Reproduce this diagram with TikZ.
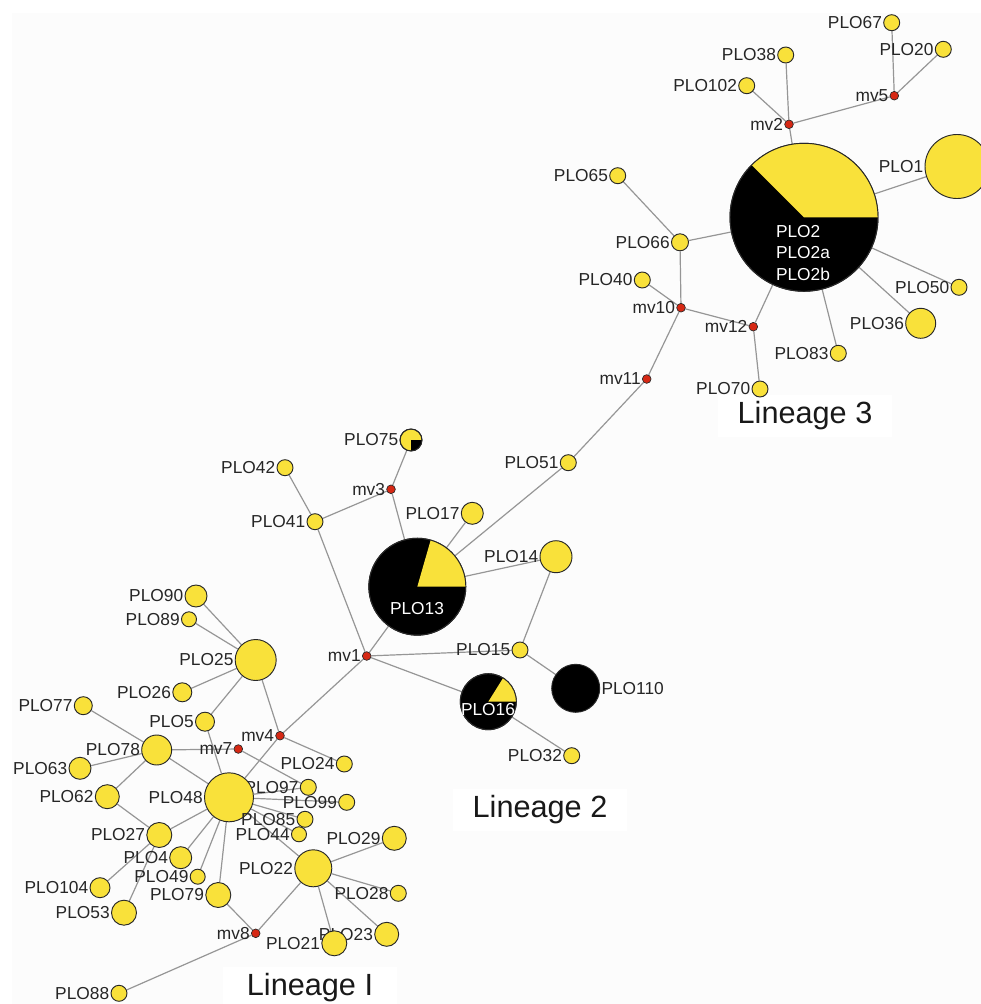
\documentclass[tikz,border=0pt]{standalone}
\usepackage{fontspec}
\setmainfont{Liberation Sans}
\usetikzlibrary{backgrounds}
\definecolor{hapyellow}{RGB}{249,225,58}
\definecolor{mvred}{RGB}{214,40,20}
\definecolor{edgegray}{RGB}{150,150,150}
\definecolor{rim}{RGB}{40,40,40}
\definecolor{paper}{RGB}{252,252,252}
\pgfdeclarelayer{edges}
\pgfsetlayers{background,edges,main}
\newcommand{\hapslice}[5]{\fill[#5] (#1.center) -- ++(#3:{#2*0.75pt}) arc[start angle=#3,end angle=#4,radius={#2*0.75pt}] -- cycle;
  \draw[rim,line width=0.7pt] (#1.center) circle[radius={#2*0.75pt}];}
\tikzset{
  hap/.style={circle,draw=rim,line width=0.7pt,fill=hapyellow,inner sep=0pt,minimum size={#1*1.5pt}},
  mix/.style={hap=#1,fill=black},
  mv/.style={circle,draw=rim,line width=0.5pt,fill=mvred,inner sep=0pt,minimum size=6.5pt},
  lbl/.style={font=\fontsize{13}{15}\selectfont,text=black!85,inner sep=0.8pt},
  inlbl/.style={font=\fontsize{13}{16}\selectfont,text=white,inner sep=0pt,align=left},
  edge/.style={draw=edgegray,line width=0.9pt},
  lineage/.style={fill=white,font=\fontsize{23}{27}\selectfont,text=black!90,minimum width=131pt,minimum height=31pt},
}
\begin{document}
\begin{tikzpicture}[x=0.75pt,y=-0.75pt]
\useasboundingbox (0,0) rectangle (981,1004);
\begin{pgfonlayer}{background}
\fill[white] (0,0) rectangle (981,1004);
\fill[paper] (12,13) rectangle (981,1004);
\end{pgfonlayer}
\node[lineage] (L3) at (805,416) {Lineage 3};
\node[lineage] (L2) at (540,810) {Lineage 2};
\node[lineage] (L1) at (310,988) {Lineage I};
\node[hap=8,label={[lbl]left:PLO67}] (PLO67) at (891.7,22.7) {};
\node[hap=8,label={[lbl]left:PLO20}] (PLO20) at (943.3,49.3) {};
\node[hap=8,label={[lbl]left:PLO38}] (PLO38) at (785.7,55) {};
\node[hap=8,label={[lbl]left:PLO102}] (PLO102) at (746.7,85.7) {};
\node[mv,label={[lbl]left:mv5}] (mv5) at (894.3,95.7) {};
\node[mv,label={[lbl]left:mv2}] (mv2) at (789,124.3) {};
\node[mix=74] (PLO2) at (804,217.3) {};
\node[hap=32,label={[lbl]left:PLO1}] (PLO1) at (957,166.5) {};
\node[hap=8,label={[lbl]left:PLO65}] (PLO65) at (617.7,175.7) {};
\node[hap=8.5,label={[lbl]left:PLO66}] (PLO66) at (680,242.3) {};
\node[hap=8,label={[lbl]left:PLO40}] (PLO40) at (642.3,280) {};
\node[mv,label={[lbl]left:mv10}] (mv10) at (681,307.7) {};
\node[mv,label={[lbl]left:mv12}] (mv12) at (753.3,326.7) {};
\node[hap=8,label={[lbl]left:PLO50}] (PLO50) at (959,287.3) {};
\node[hap=15,label={[lbl]left:PLO36}] (PLO36) at (920.7,323.3) {};
\node[hap=8,label={[lbl]left:PLO83}] (PLO83) at (838.3,353.3) {};
\node[mv,label={[lbl]left:mv11}] (mv11) at (646.7,379) {};
\node[hap=8,label={[lbl]left:PLO70}] (PLO70) at (760,389) {};
\node[hap=11,label={[lbl]left:PLO75}] (PLO75) at (411,440) {};
\node[hap=8,label={[lbl]left:PLO42}] (PLO42) at (285,467.7) {};
\node[mv,label={[lbl]left:mv3}] (mv3) at (391,489.3) {};
\node[hap=8,label={[lbl]left:PLO41}] (PLO41) at (315,521.7) {};
\node[hap=11,label={[lbl]left:PLO17}] (PLO17) at (472.3,513.3) {};
\node[hap=8,label={[lbl]left:PLO51}] (PLO51) at (568.3,462.7) {};
\node[mix=48.5] (PLO13) at (417.3,586.7) {};
\node[hap=16,label={[lbl]left:PLO14}] (PLO14) at (556,556.7) {};
\node[hap=8,label={[lbl]left:PLO15}] (PLO15) at (520,650) {};
\node[mv,label={[lbl]left:mv1}] (mv1) at (366.7,656) {};
\node[mix=28] (PLO16) at (488.3,701.7) {};
\node[mix=24,label={[lbl]right:PLO110}] (PLO110) at (575.7,688.3) {};
\node[hap=8,label={[lbl]left:PLO32}] (PLO32) at (571.7,755.7) {};
\node[hap=20.5,label={[lbl]left:PLO25}] (PLO25) at (255.7,660) {};
\node[hap=11,label={[lbl]left:PLO90}] (PLO90) at (196,596) {};
\node[hap=7.5,label={[lbl]left:PLO89}] (PLO89) at (189,619.3) {};
\node[hap=9.5,label={[lbl]left:PLO26}] (PLO26) at (182.3,692.3) {};
\node[hap=9,label={[lbl]left:PLO77}] (PLO77) at (83.3,705.7) {};
\node[hap=9.5,label={[lbl]left:PLO5}] (PLO5) at (205,721.7) {};
\node[mv,label={[lbl]left:mv4}] (mv4) at (280,735.7) {};
\node[mv,label={[lbl]left:mv7}] (mv7) at (238.3,749) {};
\node[hap=15,label={[lbl]left:PLO78}] (PLO78) at (156.7,750) {};
\node[hap=8,label={[lbl]left:PLO24}] (PLO24) at (344.3,764) {};
\node[hap=11,label={[lbl]left:PLO63}] (PLO63) at (80,768.3) {};
\node[hap=8,label={[lbl]left:PLO97}] (PLO97) at (308.3,787.3) {};
\node[hap=24.5,label={[lbl]left:PLO48}] (PLO48) at (229,797.3) {};
\node[hap=12,label={[lbl]left:PLO62}] (PLO62) at (107.3,796.7) {};
\node[hap=8,label={[lbl]left:PLO99}] (PLO99) at (346.7,802.3) {};
\node[hap=8,label={[lbl]left:PLO85}] (PLO85) at (305,819.3) {};
\node[hap=7.5,label={[lbl]left:PLO44}] (PLO44) at (299,834.3) {};
\node[hap=12,label={[lbl]left:PLO29}] (PLO29) at (394.3,838.3) {};
\node[hap=12.5,label={[lbl]left:PLO27}] (PLO27) at (159.3,835) {};
\node[hap=11,label={[lbl]left:PLO4}] (PLO4) at (180.7,857.7) {};
\node[hap=18.5,label={[lbl]left:PLO22}] (PLO22) at (313.3,868.3) {};
\node[hap=7.5,label={[lbl]left:PLO49}] (PLO49) at (197.7,876.7) {};
\node[hap=10,label={[lbl]left:PLO104}] (PLO104) at (100,887.7) {};
\node[hap=8,label={[lbl]left:PLO28}] (PLO28) at (398.3,893.3) {};
\node[hap=12.5,label={[lbl]left:PLO79}] (PLO79) at (218.3,895) {};
\node[hap=12.5,label={[lbl]left:PLO53}] (PLO53) at (124,912.7) {};
\node[mv,label={[lbl]left:mv8}] (mv8) at (255.7,933.3) {};
\node[hap=12,label={[lbl]left:PLO23}] (PLO23) at (386.7,934.3) {};
\node[hap=12.5,label={[lbl]left:PLO21}] (PLO21) at (334.3,943.3) {};
\node[hap=8,label={[lbl]left:PLO88}] (PLO88) at (119,993.3) {};
\hapslice{PLO2}{74}{0}{135}{hapyellow}
\hapslice{PLO13}{48.5}{0}{74}{hapyellow}
\hapslice{PLO16}{28}{0}{58}{hapyellow}
\hapslice{PLO75}{11}{-90}{0}{black}
\node[inlbl] (PLO2lbl) at (803,253) {PLO2\\PLO2a\\PLO2b};
\node[inlbl] (PLO13lbl) at (417,609) {PLO13};
\node[inlbl] (PLO16lbl) at (488,710) {PLO16};
\begin{pgfonlayer}{edges}
\path[edge] (PLO67) -- (mv5) (PLO20) -- (mv5) (mv5) -- (mv2) (PLO38) -- (mv2)
  (PLO102) -- (mv2) (mv2) -- (PLO2) (PLO1) -- (PLO2) (PLO65) -- (PLO66)
  (PLO66) -- (PLO2) (PLO66) -- (mv10) (PLO40) -- (mv10) (mv10) -- (mv12)
  (mv12) -- (PLO2) (mv12) -- (PLO70) (PLO83) -- (PLO2) (PLO36) -- (PLO2)
  (PLO50) -- (PLO2) (mv10) -- (mv11) (mv11) -- (PLO51) (PLO51) -- (PLO13);
\path[edge] (PLO75) -- (mv3) (mv3) -- (PLO41) (mv3) -- (PLO13) (PLO42) -- (PLO41)
  (PLO41) -- (mv1) (PLO17) -- (PLO13) (PLO14) -- (PLO13) (PLO14) -- (PLO15)
  (mv1) -- (PLO13) (mv1) -- (PLO15) (PLO15) -- (PLO110) (mv1) -- (PLO16)
  (PLO16) -- (PLO32) (mv1) -- (mv4);
\path[edge] (mv4) -- (PLO48) (mv4) -- (PLO24) (mv4) -- (PLO25) (PLO90) -- (PLO25)
  (PLO89) -- (PLO25) (PLO26) -- (PLO25) (PLO5) -- (PLO25) (PLO5) -- (PLO48)
  (PLO77) -- (PLO78) (PLO63) -- (PLO78) (PLO78) -- (mv7) (mv7) -- (PLO97)
  (PLO78) -- (PLO48) (PLO78) -- (PLO62) (PLO62) -- (PLO27) (PLO48) -- (PLO97)
  (PLO48) -- (PLO99) (PLO48) -- (PLO85) (PLO48) -- (PLO44) (PLO48) -- (PLO22)
  (PLO48) -- (PLO27) (PLO48) -- (PLO4) (PLO48) -- (PLO49) (PLO48) -- (PLO79)
  (PLO27) -- (PLO104) (PLO27) -- (PLO53) (PLO79) -- (mv8) (mv8) -- (PLO22)
  (mv8) -- (PLO88) (PLO22) -- (PLO29) (PLO22) -- (PLO28) (PLO22) -- (PLO23)
  (PLO22) -- (PLO21);
\end{pgfonlayer}
\end{tikzpicture}
\end{document}
